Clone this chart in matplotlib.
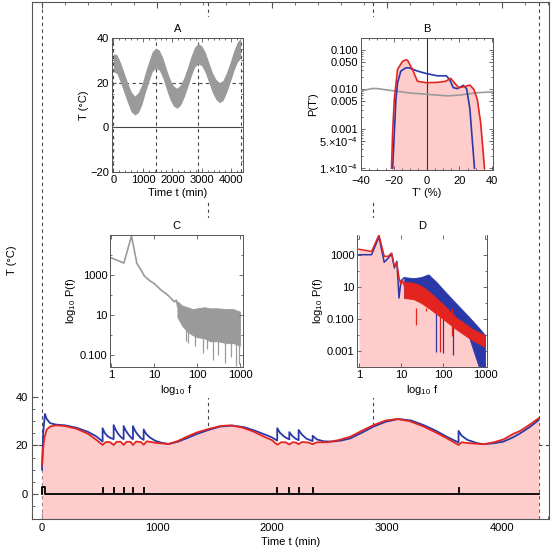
import numpy as np
import matplotlib
matplotlib.use("Agg")
import matplotlib.pyplot as plt
from matplotlib.patches import Rectangle
from matplotlib.ticker import FixedLocator, MultipleLocator, NullFormatter

plt.rcParams['font.family'] = ['Liberation Sans', 'DejaVu Sans']
plt.rcParams['font.size'] = 8
plt.rcParams['mathtext.default'] = 'regular'

RED = '#e3241f'
BLUE = '#2a38a8'
PINK = '#ffcccc'
GRAY = '#9a9a9a'
FRAME = '#555555'
FS = 8

# ---- main panel: room temperature (red) and heater-side temperature (blue)
red_t = [0, 8, 20, 40, 70, 120, 200, 300, 400, 470, 527, 555, 590, 623, 650, 685, 710,
         735, 770, 791, 820, 860, 884, 910, 950, 1000, 1100, 1180, 1260, 1350, 1449,
         1550, 1640, 1740, 1840, 1950, 2000, 2046, 2080, 2120, 2151, 2180, 2210, 2232,
         2260, 2320, 2354, 2390, 2480, 2580, 2681, 2780, 2884, 2990, 3087, 3200, 3319,
         3420, 3520, 3623, 3650, 3700, 3840, 3930, 4014, 4100, 4159, 4240, 4320]
red_T = [12, 18, 23, 26.5, 27.8, 28.3, 28, 26.9, 24.8, 22.4, 20.2, 21.4, 21.4, 20.2, 21.5,
         21.5, 20.2, 21.5, 21.5, 20.2, 21.6, 21.4, 20.3, 21.7, 21.4, 21, 20.6, 21.8, 23.6,
         25.4, 26.8, 28, 28.3, 27.4, 25.7, 23.2, 22.2, 20.3, 21.3, 21.3, 20.4, 21.3, 21.2,
         20.5, 21.4, 21.2, 20.5, 21.3, 21.3, 22.2, 23.6, 26, 28.4, 30.3, 30.9, 30, 27.8,
         25.5, 23, 20.2, 21.3, 21, 20.5, 21.3, 22.5, 24.8, 26, 28.5, 31.2]

blue_t = [0, 10, 25, 40, 70, 120, 200, 300, 400, 470, 527, 527, 545, 570, 600, 623, 623,
          640, 665, 690, 710, 710, 728, 750, 775, 791, 791, 810, 835, 860, 884, 884, 905,
          940, 990, 1050, 1100, 1180, 1260, 1350, 1449, 1550, 1660, 1760, 1840, 1950,
          2000, 2046, 2046, 2070, 2110, 2151, 2151, 2175, 2205, 2232, 2232, 2260, 2300,
          2354, 2354, 2390, 2450, 2520, 2600, 2681, 2780, 2884, 2990, 3100, 3210, 3319,
          3420, 3520, 3623, 3623, 3650, 3700, 3780, 3840, 3930, 4014, 4100, 4159, 4240,
          4320]
blue_T = [10, 25, 33, 31, 29.2, 28.6, 28.3, 27.3, 25.6, 23.8, 21.6, 27.1, 25.2, 23.8, 23,
          22.6, 28.4, 26.5, 24.6, 23.3, 22.6, 28, 26.2, 24.6, 23.2, 22.6, 28, 26, 24.3, 23,
          22.3, 26.6, 24.8, 23.2, 21.8, 21, 20.6, 21.5, 23, 24.8, 26.4, 27.8, 28.2, 27.5,
          26.3, 24.3, 23.3, 22, 27.1, 25.2, 23.5, 22.5, 25.5, 24, 22.8, 22.2, 26.4, 24.5,
          22.8, 21.8, 24, 22.5, 21.7, 21.6, 22, 22.9, 25.2, 27.8, 29.8, 30.9, 30.3, 28.4,
          26.2, 23.6, 21.2, 26, 24, 22.3, 21, 20.5, 20.9, 21.6, 23.4, 25, 27.5, 30.5]

# heater switching events
heater_t = [0, 0, 29, 29, 4320]
heater_v = [0, 3, 3, 0, 0]
event_t = [527, 623, 710, 791, 884, 2046, 2151, 2232, 2354, 3623]
event_h = 3

day_marks = [0, 1440, 2880, 4320]

# ---- inset A: outdoor temperature (noisy band)
a_t = list(range(0, 4321, 120))
a_hi = [33, 32.5, 29, 24.5, 20, 16, 14, 15.5, 19, 24.5, 29.5, 34, 35.5, 34.5, 31, 26, 21.5,
        18.5, 17.5, 19, 22.5, 27, 32, 36, 37.5, 36.5, 33.5, 29, 24.5, 21.5, 20, 21, 24.5,
        29, 34, 38, 40]
a_lo = [25, 24, 20, 15.5, 11, 7, 5.5, 6.5, 10, 15.5, 20.5, 25, 26.5, 25.5, 22, 17, 12.5,
        9.5, 8.5, 10, 13.5, 18, 23, 27, 28.5, 27.5, 24.5, 20, 15.5, 12.5, 11, 12, 15.5,
        20, 25, 29, 31]

# ---- inset B: distributions P(T')
b_red_x = [-21.4, -20.7, -19.7, -17.7, -14.7, -12.5, -11.6, -8.6, -5.6, 0, 6.6, 11.6, 14.7,
           17.7, 19.7, 22.8, 26.4, 28.8, 30.9, 32.9, 34.3, 35.3]
b_red_p = [1e-4, 8.3e-4, 0.0056, 0.032, 0.051, 0.056, 0.054, 0.032, 0.016, 0.0147, 0.015,
           0.016, 0.019, 0.0134, 0.011, 0.0116, 0.0128, 0.010, 0.0056, 0.0015, 3.2e-4, 1e-4]
b_blue_x = [-20.7, -18.7, -17.7, -15.7, -12.7, -10.6, -5.6, 0, 6.6, 12, 14, 16.3, 18.7, 22.4,
            24.4, 26.4, 27.8, 29.2]
b_blue_p = [1e-4, 0.0056, 0.0147, 0.029, 0.035, 0.035, 0.029, 0.025, 0.022, 0.022, 0.0178,
            0.011, 0.0104, 0.0126, 0.0104, 0.0032, 5.6e-4, 1e-4]
b_gray_x = [-40, -33, -29.9, -19.7, -9.6, 0, 12.7, 20.7, 30.9, 40]
b_gray_p = [0.0091, 0.0105, 0.0104, 0.0091, 0.008, 0.0075, 0.0068, 0.0072, 0.0082, 0.0086]

# ---- inset C: spectrum of outdoor temperature
c_f = [1, 2, 3, 4, 5, 6, 8, 10, 15, 20, 25, 30, 33, 36]
c_p = [7300, 4000, 90000, 3840, 1800, 890, 520, 385, 170, 110, 68, 46, 56, 25]
c_band_f = [35, 45, 60, 80, 100, 150, 200, 300, 500, 700, 1000]
c_band_hi = [50, 30, 25, 20, 22, 25, 22, 22, 20, 20, 15]
c_band_lo = [8, 3, 1.5, 1, 0.8, 0.7, 0.5, 0.5, 0.4, 0.4, 0.3]
c_dip_f = [55, 62, 90, 140, 170, 240, 300, 450, 600, 800, 950]
c_dip_p = [0.5, 0.4, 0.3, 0.13, 0.2, 0.06, 0.1, 0.04, 0.08, 0.03, 0.035]

# ---- inset D: spectra of red / blue temperatures
d_red_f = [1, 2, 3, 4, 5, 6, 7, 8, 9, 10, 11, 12]
d_red_p = [2200, 1600, 17000, 800, 800, 1270, 190, 310, 37, 14, 25, 12]
d_red_band_f = [12, 20, 30, 50, 100, 200, 500, 1000]
d_red_band_hi = [20, 18, 12, 4.4, 0.83, 0.13, 0.024, 0.0093]
d_red_band_lo = [2, 1.7, 1, 0.4, 0.1, 0.024, 0.0046, 0.0018]
d_red_dip_f = [23, 40, 84, 160]
d_red_dip_p = [0.039, 0.3, 8.7e-4, 0.009]
d_blue_f = [1, 2, 3, 4, 5, 6, 7, 8, 9, 10, 12]
d_blue_p = [1000, 1000, 13000, 340, 620, 1150, 150, 390, 2, 23, 37]
d_blue_band_f = [12, 20, 30, 45, 70, 100, 200, 400, 700, 1000]
d_blue_band_hi = [40, 35, 40, 60, 20, 7, 1, 0.15, 0.03, 0.01]
d_blue_band_lo = [2, 2.7, 2, 1.7, 0.6, 0.25, 0.06, 0.01, 1.2e-4, 1e-4]
d_blue_dip_f = [70, 100, 175]
d_blue_dip_p = [8.7e-4, 7e-4, 6e-4]


def style_inset(ax, title):
    for s in ax.spines.values():
        s.set_color(FRAME)
        s.set_linewidth(0.7)
    ax.tick_params(which='both', direction='in', color=FRAME, width=0.6,
                   top=True, right=True, pad=2, labelsize=FS)
    ax.tick_params(which='major', length=3)
    ax.tick_params(which='minor', length=1.5)
    ax.set_title(title, fontsize=FS, pad=4)


fig = plt.figure(figsize=(5.52, 5.52), dpi=100)
ax = fig.add_axes([0.058, 0.06, 0.9366, 0.9366])

dash = dict(color='#444444', lw=0.8, ls=(0, (3, 3)), zorder=1)
for d in day_marks:
    ax.axvline(d, **dash)
ax.axhline(20, **dash)

ax.fill_between(red_t, -20, red_T, color=PINK, lw=0, zorder=2)
ax.plot(blue_t, blue_T, color=BLUE, lw=1.3, zorder=4)
ax.plot(red_t, red_T, color=RED, lw=1.3, zorder=5)
ax.plot(heater_t, heater_v, color='black', lw=1.3, zorder=6)
ax.vlines(event_t, 0, event_h, color='black', lw=1.3, zorder=6)

ax.set_xlim(-87, 4410)
ax.set_ylim(-10.3, 203)
ax.set_yticks([0, 20, 40])
ax.xaxis.set_major_locator(MultipleLocator(1000))
ax.xaxis.set_minor_locator(MultipleLocator(200))
ax.yaxis.set_minor_locator(FixedLocator([-5, 5, 10, 15, 25, 30, 35]))
for s in ax.spines.values():
    s.set_color(FRAME)
    s.set_linewidth(0.8)
ax.tick_params(which='both', direction='in', color=FRAME, top=True, labelsize=FS, pad=3)
ax.tick_params(which='major', length=4)
ax.tick_params(which='minor', length=2)
ax.set_xlabel('Time t (min)', fontsize=FS, labelpad=3)
ax.set_ylabel('T (°C)', fontsize=FS, labelpad=-1)

# white boxes hiding the main grid behind the insets
for (x0, y0, x1, y1) in [(62, 17, 252, 200), (62, 218, 252, 398),
                         (292, 17, 500, 200), (292, 218, 500, 398)]:
    ax.add_patch(Rectangle((x0 / 552, 1 - y1 / 552), (x1 - x0) / 552, (y1 - y0) / 552,
                           transform=fig.transFigure, facecolor='white',
                           edgecolor='none', zorder=7, clip_on=False))

# ---- A
axA = fig.add_axes([112 / 552, 1 - 172 / 552, 131 / 552, 134 / 552])
for d in day_marks:
    axA.axvline(d, **dash)
axA.axhline(20, **dash)
axA.axhline(0, color='#444444', lw=0.8, zorder=1)
axA.fill_between(a_t, a_lo, a_hi, color=GRAY, lw=0, zorder=3)
axA.set_xlim(-50, 4400)
axA.set_ylim(-20, 40)
axA.set_xticks([0, 1000, 2000, 3000, 4000])
axA.set_yticks([-20, 0, 20, 40])
axA.xaxis.set_minor_locator(MultipleLocator(200))
axA.yaxis.set_minor_locator(MultipleLocator(5))
axA.set_xlabel('Time t (min)', labelpad=2)
axA.set_ylabel('T (°C)', labelpad=1)
style_inset(axA, 'A')

# ---- B
axB = fig.add_axes([361 / 552, 1 - 170 / 552, 132 / 552, 132 / 552])
axB.fill_between(b_red_x, 1e-6, b_red_p, color=PINK, lw=0, zorder=1)
axB.axvline(0, color='#333333', lw=0.8, zorder=2)
axB.plot(b_gray_x, b_gray_p, color=GRAY, lw=1.2, zorder=3)
axB.plot(b_blue_x, b_blue_p, color=BLUE, lw=1.2, zorder=4)
axB.plot(b_red_x, b_red_p, color=RED, lw=1.2, zorder=5)
axB.set_yscale('log')
axB.set_xlim(-40, 40.5)
axB.set_ylim(9e-5, 0.2)
axB.set_xticks([-40, -20, 0, 20, 40])
axB.xaxis.set_minor_locator(MultipleLocator(5))
axB.set_yticks([1e-4, 5e-4, 1e-3, 5e-3, 1e-2, 5e-2, 1e-1])
axB.set_yticklabels([r'1.$\times$10$^{-4}$', r'5.$\times$10$^{-4}$', '0.001', '0.005',
                     '0.010', '0.050', '0.100'])
axB.yaxis.set_minor_formatter(NullFormatter())
axB.set_xlabel("T' (%)", labelpad=2)
axB.set_ylabel("P(T')", labelpad=1)
style_inset(axB, 'B')
axB.tick_params(axis='x', pad=4)

# ---- C
axC = fig.add_axes([110 / 552, 1 - 367 / 552, 133 / 552, 132 / 552])
axC.fill_between(c_band_f, c_band_lo, c_band_hi, color=GRAY, lw=0.6, edgecolor=GRAY)
axC.vlines(c_dip_f, c_dip_p, 2, color=GRAY, lw=0.9)
axC.plot(c_f, c_p, color=GRAY, lw=1.2)
axC.set_xscale('log')
axC.set_yscale('log')
axC.set_xlim(0.95, 1170)
axC.set_ylim(0.026, 1e5)
axC.set_xticks([1, 10, 100, 1000])
axC.set_xticklabels(['1', '10', '100', '1000'])
axC.set_yticks([0.1, 10, 1000])
axC.set_yticklabels(['0.100', '10', '1000'])
axC.xaxis.set_minor_formatter(NullFormatter())
axC.yaxis.set_minor_locator(FixedLocator([1, 100, 10000]))
axC.yaxis.set_minor_formatter(NullFormatter())
axC.set_xlabel(r'log$_{10}$ f', labelpad=2)
axC.set_ylabel(r'log$_{10}$ P(f)', labelpad=1)
style_inset(axC, 'C')

# ---- D
axD = fig.add_axes([357 / 552, 1 - 367 / 552, 130 / 552, 132 / 552])
fill_f = d_red_f + d_red_band_f[1:]
fill_p = d_red_p + d_red_band_hi[1:]
axD.fill_between(fill_f, 1e-6, fill_p, color=PINK, lw=0, zorder=1)
axD.fill_between(d_blue_band_f, d_blue_band_lo, d_blue_band_hi, color=BLUE, lw=0.6,
                 edgecolor=BLUE, zorder=2)
axD.vlines(d_blue_dip_f, d_blue_dip_p, 0.5, color=BLUE, lw=0.9, zorder=2)
axD.plot(d_blue_f, d_blue_p, color=BLUE, lw=1.1, zorder=3)
axD.fill_between(d_red_band_f, d_red_band_lo, d_red_band_hi, color=RED, lw=0.6,
                 edgecolor=RED, zorder=4)
axD.vlines(d_red_dip_f, d_red_dip_p, 0.5, color=RED, lw=0.9, zorder=4)
axD.plot(d_red_f, d_red_p, color=RED, lw=1.1, zorder=5)
axD.set_xscale('log')
axD.set_yscale('log')
axD.set_xlim(0.9, 1120)
axD.set_ylim(1e-4, 1.7e4)
axD.set_xticks([1, 10, 100, 1000])
axD.set_xticklabels(['1', '10', '100', '1000'])
axD.set_yticks([0.001, 0.1, 10, 1000])
axD.set_yticklabels(['0.001', '0.100', '10', '1000'])
axD.xaxis.set_minor_formatter(NullFormatter())
axD.yaxis.set_minor_locator(FixedLocator([0.01, 1, 100, 10000]))
axD.yaxis.set_minor_formatter(NullFormatter())
axD.set_xlabel(r'log$_{10}$ f', labelpad=2)
axD.set_ylabel(r'log$_{10}$ P(f)', labelpad=1)
style_inset(axD, 'D')
axD.spines['top'].set_visible(False)

fig.savefig('out.png', dpi=100)
